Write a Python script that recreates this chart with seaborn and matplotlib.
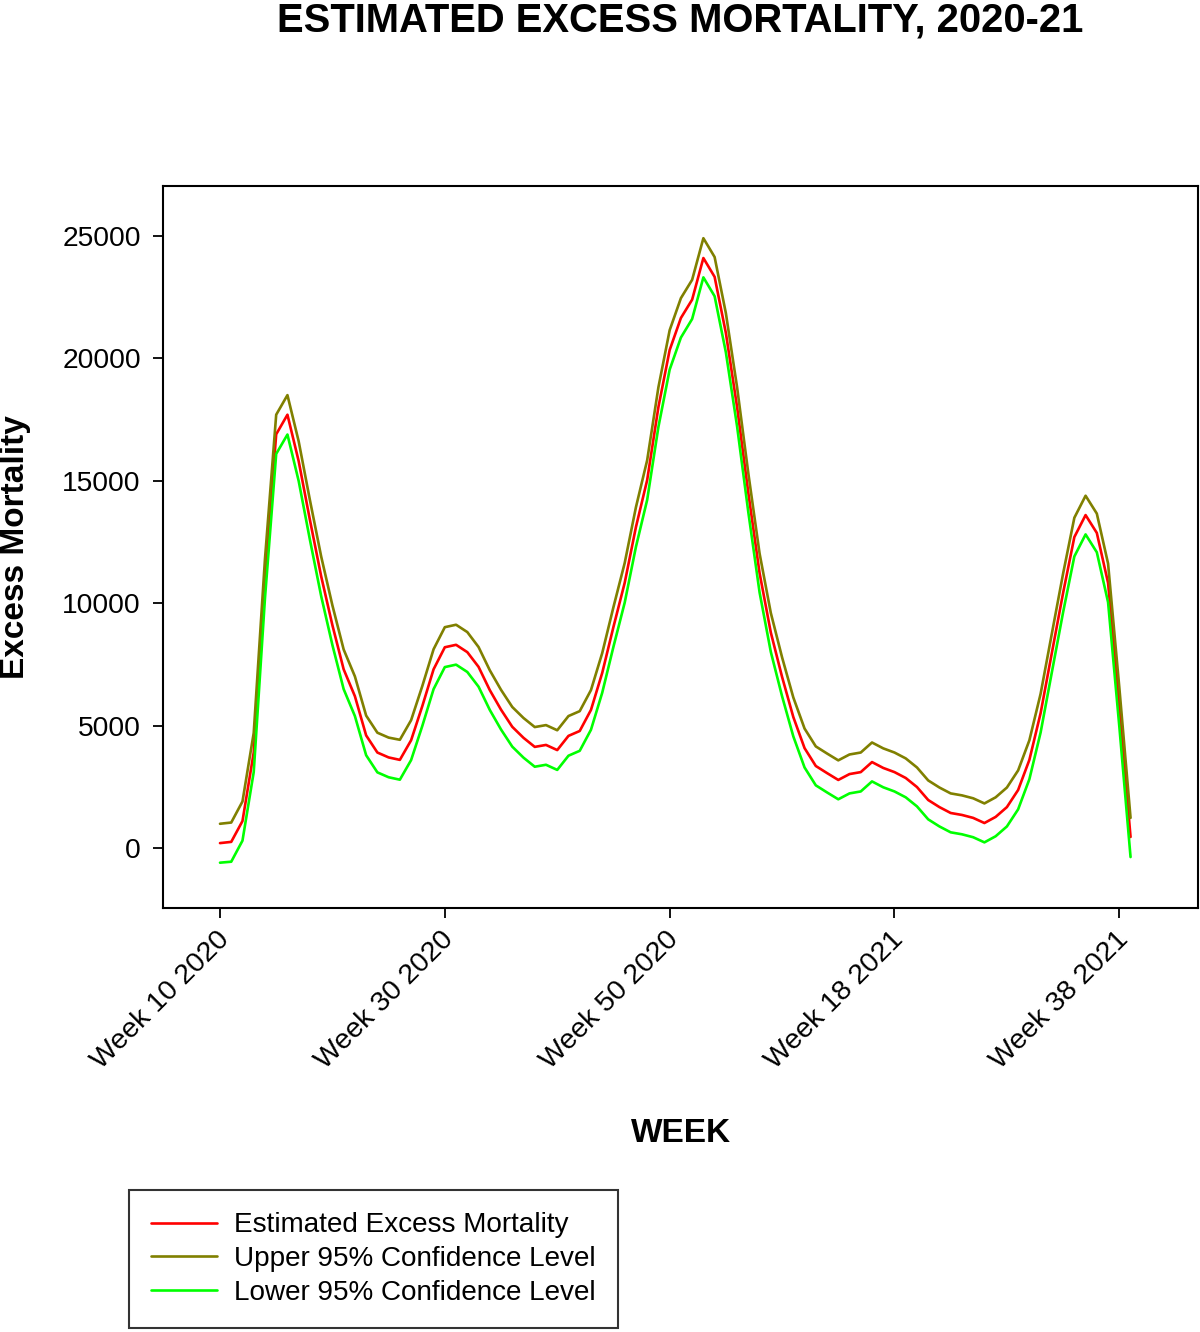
import matplotlib
matplotlib.use("Agg")
import matplotlib.pyplot as plt
from matplotlib import font_manager
from matplotlib.lines import Line2D
import matplotlib.transforms as mtransforms
import seaborn as sns
import pandas as pd

# ---------------- data ----------------
week_index = list(range(82))  # 0 = Week 10 2020
tick_positions = [0, 20, 40, 60, 80]
tick_labels = ["Week 10 2020", "Week 30 2020", "Week 50 2020", "Week 18 2021", "Week 38 2021"]
y_ticks = [0, 5000, 10000, 15000, 20000, 25000]

estimated = [200, 250, 1100, 3900, 11000, 16900, 17700, 15800, 13400, 11100,
             9100, 7300, 6200, 4600, 3900, 3700, 3600, 4400, 5800, 7300,
             8200, 8300, 8000, 7400, 6450, 5650, 4950, 4500, 4130, 4210,
             4000, 4580, 4780, 5640, 7150, 9030, 10830, 13110, 15030, 18010,
             20340, 21650, 22400, 24100, 23330, 21040, 18010, 14500, 11230, 8800,
             6990, 5350, 4080, 3350, 3060, 2780, 3020, 3100, 3510, 3270,
             3100, 2860, 2490, 1960, 1670, 1430, 1350, 1230, 1020, 1270,
             1670, 2370, 3600, 5510, 7970, 10420, 12700, 13600, 12870, 10830,
             5760, 450]

upper = [990, 1040, 1900, 4700, 11800, 17700, 18500, 16610, 14210, 11910,
         9910, 8110, 7010, 5410, 4710, 4510, 4420, 5220, 6620, 8120,
         9020, 9120, 8820, 8210, 7260, 6460, 5760, 5310, 4940, 5020,
         4810, 5390, 5590, 6450, 7960, 9840, 11640, 13920, 15840, 18820,
         21150, 22460, 23210, 24910, 24140, 21850, 18820, 15300, 12030, 9600,
         7790, 6150, 4880, 4150, 3860, 3580, 3820, 3900, 4310, 4070,
         3900, 3660, 3290, 2760, 2470, 2230, 2150, 2030, 1820, 2070,
         2470, 3170, 4400, 6300, 8760, 11210, 13490, 14390, 13660, 11620,
         6560, 1230]

lower = [-600, -560, 300, 3100, 10200, 16100, 16890, 14990, 12590, 10290,
         8290, 6490, 5390, 3790, 3090, 2890, 2790, 3590, 4990, 6490,
         7390, 7490, 7190, 6590, 5640, 4840, 4140, 3690, 3320, 3400,
         3190, 3770, 3970, 4830, 6340, 8220, 10020, 12300, 14220, 17200,
         19540, 20850, 21610, 23310, 22540, 20250, 17220, 13710, 10440, 8010,
         6200, 4560, 3290, 2560, 2270, 1990, 2230, 2310, 2720, 2480,
         2310, 2070, 1700, 1170, 880, 640, 560, 440, 230, 480,
         880, 1580, 2810, 4720, 7180, 9630, 11910, 12810, 12080, 10040,
         4970, -370]

series_names = ["Estimated Excess Mortality", "Upper 95% Confidence Level", "Lower 95% Confidence Level"]
series_colors = ["#FF0000", "#808000", "#00FF00"]

# ---------------- style ----------------
sns.set_theme(style="white")
plt.rcParams["font.family"] = ["Liberation Sans", "DejaVu Sans"]
plt.rcParams["text.color"] = "black"
plt.rcParams["axes.labelcolor"] = "black"

available = {f.name for f in font_manager.fontManager.ttflist}
if "Liberation Sans Narrow" in available:
    title_family = ["Liberation Sans Narrow", "Liberation Sans"]
    title_size = 34
else:
    title_family = ["Liberation Sans", "DejaVu Sans"]
    title_size = 28.8

fig = plt.figure(figsize=(12, 13.32), dpi=100)
ax = fig.add_axes([163 / 1200, 1 - 908 / 1332, (1198 - 163) / 1200, (908 - 186) / 1332])

df = pd.DataFrame({
    "week": week_index * 3,
    "value": estimated + upper + lower,
    "series": [series_names[0]] * 82 + [series_names[1]] * 82 + [series_names[2]] * 82,
})

sns.lineplot(data=df, x="week", y="value", hue="series", hue_order=series_names,
             palette=series_colors, linewidth=1.9, ax=ax, legend=False)

ax.set_xlim(-5.07, 87.0)
ax.set_ylim(-2451, 27042)

ax.set_xticks(tick_positions)
ax.set_xticklabels(tick_labels, rotation=45, ha="right", va="center",
                   rotation_mode="anchor", fontsize=20.5)
ax.set_yticks(y_ticks)
ax.set_yticklabels([str(v) for v in y_ticks], fontsize=20.3)

ax.tick_params(axis="both", which="major", direction="out", length=7, width=1.3,
               color="black", labelcolor="black", bottom=True, left=True)
ax.tick_params(axis="y", pad=9)
ax.tick_params(axis="x", pad=11)

offset = mtransforms.ScaledTranslation(5 / 100, -3 / 100, fig.dpi_scale_trans)
for lab in ax.get_xticklabels():
    lab.set_transform(lab.get_transform() + offset)

for sp in ax.spines.values():
    sp.set_color("black")
    sp.set_linewidth(1.5)

ax.set_xlabel("WEEK", fontsize=24, fontweight="bold", va="center", color="black")
ax.xaxis.set_label_coords((681 - 163) / 1035, (908 - 1134) / 722)
ax.set_ylabel("Excess Mortality", fontsize=24, fontweight="bold", va="center", color="black")
ax.yaxis.set_label_coords((16 - 163) / 1035, 0.5)

fig.text(680 / 1200, 1 - 31 / 1332, "ESTIMATED EXCESS MORTALITY, 2020-21",
         ha="center", va="baseline", fontsize=title_size, fontweight="bold",
         family=title_family, color="black")

# legend
handles = [Line2D([0], [0], color=c, linewidth=1.9) for c in series_colors]
leg = fig.legend(handles, series_names, loc="upper left",
                 bbox_to_anchor=(129 / 1200, 1 - 1190 / 1332),
                 bbox_transform=fig.transFigure, borderaxespad=0,
                 fontsize=20.1, frameon=True, fancybox=False, edgecolor="black",
                 handlelength=2.35, handletextpad=0.6, borderpad=0.8,
                 labelspacing=0.28, labelcolor="black")
leg.get_frame().set_linewidth(1.5)

fig.savefig("out.png", dpi=100, facecolor="white")
